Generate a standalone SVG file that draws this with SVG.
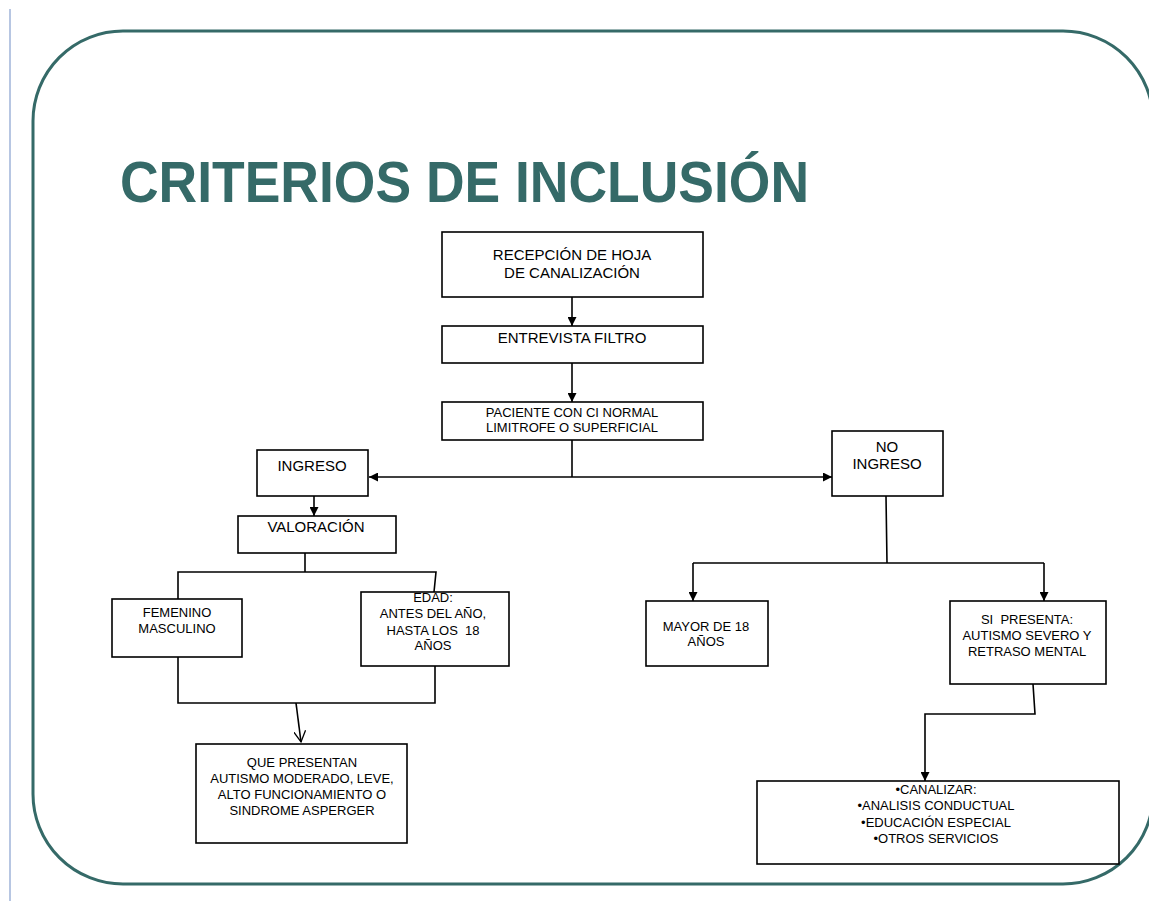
<svg xmlns="http://www.w3.org/2000/svg" width="1149" height="901" viewBox="0 0 1149 901">
<defs>
<style>
.box{fill:#fff;stroke:#000;stroke-width:1.6}
.t{font-family:"Liberation Sans",Arial,sans-serif;fill:#000;text-anchor:middle}
.l{font-size:15px}
.s{font-size:13px}
.c{fill:none;stroke:#000;stroke-width:1.6}
</style>
<marker id="ah" viewBox="0 0 10 10" refX="10" refY="5" markerWidth="9" markerHeight="9" markerUnits="userSpaceOnUse" orient="auto-start-reverse">
<path d="M0,0 L10,5 L0,10 z" fill="#000"/>
</marker>
<marker id="oh" viewBox="0 0 12 12" refX="11" refY="6" markerWidth="12" markerHeight="12" markerUnits="userSpaceOnUse" orient="auto">
<path d="M0,0 L11,6 L0,12" fill="none" stroke="#000" stroke-width="1.3"/>
</marker>
</defs>
<rect x="0" y="0" width="1149" height="901" fill="#fff"/>
<line x1="10" y1="9" x2="10" y2="901" stroke="#9fb3d9" stroke-width="1.5"/>
<rect x="33" y="31" width="1120" height="853" rx="90" ry="90" fill="none" stroke="#356a68" stroke-width="3"/>
<text x="120" y="202" font-family="'Liberation Sans',Arial,sans-serif" font-weight="bold" font-size="58" fill="#356a68" textLength="689" lengthAdjust="spacingAndGlyphs">CRITERIOS DE INCLUSIÓN</text>

<g id="connectors">
<path class="c" d="M572,297 L572,326" marker-end="url(#ah)"/>
<path class="c" d="M572,363 L572,402" marker-end="url(#ah)"/>
<path class="c" d="M572,440 L572,477"/>
<path class="c" d="M369,477 L832,477" marker-start="url(#ah)" marker-end="url(#ah)"/>
<path class="c" d="M314,496 L314,516" marker-end="url(#ah)"/>
<path class="c" d="M305,553 L305,572 M178,599 L178,572 L436,572 L434,592"/>
<path class="c" d="M178,657 L178,703 L435,703 L435,666"/>
<path class="c" d="M296,703 L301,742" marker-end="url(#oh)"/>
<path class="c" d="M886,496 L887,563 M693,563 L1044,563"/>
<path class="c" d="M693,563 L693,601" marker-end="url(#ah)"/>
<path class="c" d="M1044,563 L1044,601" marker-end="url(#ah)"/>
<path class="c" d="M1033,684 L1035,714 L925,714 L925,781" marker-end="url(#ah)"/>
</g>

<g id="recepcion">
<rect class="box" x="442" y="232" width="261" height="65"/>
<text class="t l" x="572" y="260">RECEPCIÓN DE HOJA</text>
<text class="t l" x="572" y="278">DE CANALIZACIÓN</text>
</g>
<g id="entrevista">
<rect class="box" x="442" y="326" width="261" height="37"/>
<text class="t l" x="572" y="343">ENTREVISTA FILTRO</text>
</g>
<g id="paciente">
<rect class="box" x="442" y="402" width="261" height="38"/>
<text class="t s" x="572" y="417">PACIENTE CON CI NORMAL</text>
<text class="t s" x="572" y="432">LIMITROFE O SUPERFICIAL</text>
</g>
<g id="ingreso">
<rect class="box" x="257" y="450" width="111" height="46"/>
<text class="t l" x="312" y="471">INGRESO</text>
</g>
<g id="valoracion">
<rect class="box" x="238" y="516" width="158" height="37"/>
<text class="t l" x="316" y="532">VALORACIÓN</text>
</g>
<g id="femenino">
<rect class="box" x="112" y="599" width="130" height="58"/>
<text class="t s" x="177" y="617">FEMENINO</text>
<text class="t s" x="177" y="633">MASCULINO</text>
</g>
<g id="edad">
<rect class="box" x="361" y="592" width="148" height="74"/>
<text class="t s" x="433" y="602">EDAD:</text>
<text class="t s" x="433" y="618">ANTES DEL AÑO,</text>
<text class="t s" x="433" y="635" xml:space="preserve">HASTA LOS  18</text>
<text class="t s" x="433" y="650">AÑOS</text>
</g>
<g id="presentan">
<rect class="box" x="196" y="744" width="211" height="99"/>
<text class="t s" x="302" y="767">QUE PRESENTAN</text>
<text class="t s" x="302" y="783">AUTISMO MODERADO, LEVE,</text>
<text class="t s" x="302" y="799">ALTO FUNCIONAMIENTO O</text>
<text class="t s" x="302" y="815">SINDROME ASPERGER</text>
</g>
<g id="noingreso">
<rect class="box" x="832" y="431" width="111" height="65"/>
<text class="t l" x="887" y="452">NO</text>
<text class="t l" x="887" y="469">INGRESO</text>
</g>
<g id="mayor">
<rect class="box" x="646" y="601" width="122" height="65"/>
<text class="t s" x="706" y="631">MAYOR DE 18</text>
<text class="t s" x="706" y="646">AÑOS</text>
</g>
<g id="sipresenta">
<rect class="box" x="950" y="601" width="156" height="83"/>
<text class="t s" x="1027" y="624" xml:space="preserve">SI  PRESENTA:</text>
<text class="t s" x="1027" y="640">AUTISMO SEVERO Y</text>
<text class="t s" x="1027" y="656">RETRASO MENTAL</text>
</g>
<g id="canalizar">
<rect class="box" x="757" y="781" width="362" height="83"/>
<text class="t s" x="936" y="794">•CANALIZAR:</text>
<text class="t s" x="936" y="810">•ANALISIS CONDUCTUAL</text>
<text class="t s" x="936" y="827">•EDUCACIÓN ESPECIAL</text>
<text class="t s" x="936" y="843">•OTROS SERVICIOS</text>
</g>
</svg>
